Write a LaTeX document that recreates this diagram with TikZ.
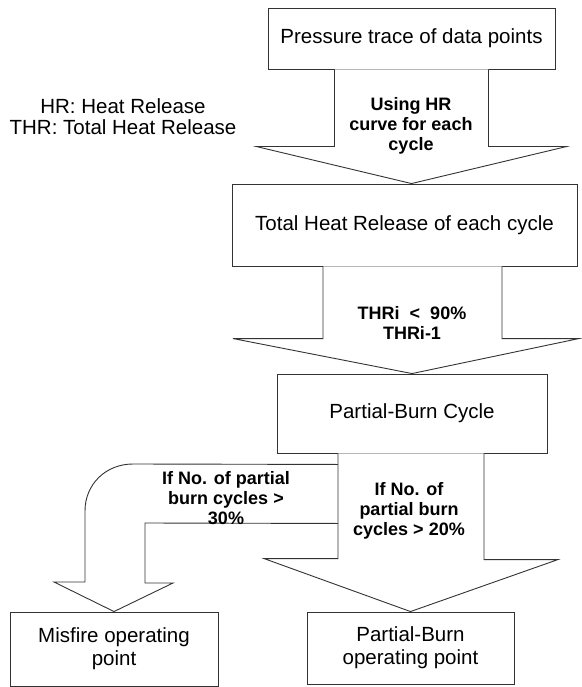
\documentclass[tikz,border=0pt]{standalone}
\usepackage{fontspec}
\setmainfont{Liberation Sans}
\usetikzlibrary{calc}
\begin{document}
\begin{tikzpicture}[x=1pt,y=-1pt,
  box/.style={draw=black!80, line width=0.9pt, fill=white, inner sep=0pt, align=center,
    font=\fontsize{20.5}{23}\selectfont},
  barrow/.style={draw=black!80, line width=0.9pt, fill=white, line join=miter},
  lbl/.style={align=center, inner sep=0pt, font=\bfseries\fontsize{18}{20}\selectfont},
  legend/.style={align=center, inner sep=0pt, font=\fontsize{20.5}{21}\selectfont}]
\useasboundingbox (0,0) rectangle (581,687);
% boxes
\node[box, minimum width=287pt, minimum height=61pt] (b1) at (411.5,38.5) {Pressure trace of data points};
\node[box, minimum width=345pt, minimum height=82pt] (b2) at (404.5,225) {Total Heat Release of each cycle};
\node[box, minimum width=270pt, minimum height=79pt] (b3) at (412,413.5) {Partial-Burn Cycle};
\node[box, minimum width=207pt, minimum height=72pt] (b4) at (410.5,648) {Partial-Burn\\operating point};
\node[box, minimum width=208pt, minimum height=74pt] (b5) at (114,649) {Misfire operating\\point};
% helper coordinates
\coordinate (t1) at (b1.south |- b2.north);
\coordinate (s2) at (b3.north |- b2.south);
\coordinate (s3) at (b4.north |- b3.south);
\coordinate (m0) at ($(s3)+(-72.5,11)$);
\coordinate (m1) at ($(s3)+(-72.5,70)$);
% block arrow 1
\draw[barrow] ($(b1.south)+(-77,0)$) |- ($(t1)+(-155,-37)$) -- (t1)
  -- ($(t1)+(155,-37)$) -| ($(b1.south)+(77,0)$);
% block arrow 2
\draw[barrow] ($(s2)+(-89,0)$) |- ($(b3.north)+(-179,-35)$) -- (b3.north)
  -- ($(b3.north)+(167,-35)$) -| ($(s2)+(90,0)$);
% curved block arrow to misfire
\draw[barrow] (m0) -- (133,464) .. controls (106,464) and (85,484) .. (85,511)
  -- (85,582) -- (54,582) -- (b5.north) -- (173,583) -- (145,583) -- (145,523) -- (m1);
% block arrow 3
\draw[barrow] ($(s3)+(-72.5,0)$) |- ($(b4.north)+(-146.5,-53)$) -- (b4.north)
  -- ($(b4.north)+(147.5,-52)$) -| ($(s3)+(73.5,0)$);
% texts
\node[legend] (lg) at (123,116.5) {HR: Heat Release\\THR: Total Heat Release};
\node[lbl] (l1) at (411,126) {Using HR\\curve for each\\cycle};
\node[lbl] (l2) at (412,323) {THRi\ \ <\ \ 90\%\\THRi-1};
\node[lbl] (l3) at (409,511) {If No. of\\partial burn\\cycles > 20\%};
\node[lbl] (l4) at (226,498) {If No. of partial\\burn cycles >\\30\%};
\end{tikzpicture}
\end{document}
